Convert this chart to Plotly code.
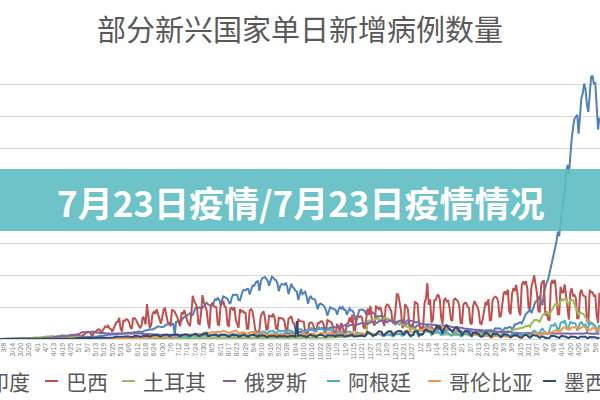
import plotly.graph_objects as go
import pandas as pd

START = "2020-03-02"  # first day of every series (daily values, in thousands)

india = [
    0,0,0,0,0,0,0, 0,0,0,0,0,0,0,
    0,0,0,0,0.1,0.1,0.1, 0.1,0.1,0.1,0.1,0.1,0.2,0.1,
    0.2,0.2,0.4,0.5,0.5,0.6,0.7, 0.6,0.5,0.6,0.8,0.9,0.8,0.9,
    0.8,1.2,1.1,0.9,1.0,1.2,1.5, 1.3,1.5,1.3,1.7,1.8,1.6,1.8,
    1.4,1.9,1.7,1.8,1.9,2.6,2.6, 3.9,2.9,2.9,3.6,3.3,3.3,4.2,
    3.6,3.6,3.7,3.9,3.9,4.9,5.0, 4.6,5.6,5.6,6.1,6.7,6.8,7.0,
    6.5,6.4,6.6,7.5,7.5,8.4,8.8, 8.4,8.2,9.6,9.9,9.9,10.4,9.9,
    9.9,9.9,11.1,10.0,11.5,12.0,11.9, 10.7,11.0,13.1,12.9,13.6,14.5,15.4,
    14.8,15.0,16.7,16.9,18.6,19.9,19.5, 18.7,18.5,19.1,20.9,22.8,22.8,24.9,
    22.3,22.8,24.9,6.0,27.1,27.8,28.6, 28.5,29.4,32.7,35.0,34.9,37.4,38.9,
    40.4,37.1,37.7,45.7,49.3,48.9,48.7, 49.9,47.7,48.5,52.1,55.1,57.1,54.7,
    52.9,52.1,52.5,56.3,62.5,61.5,64.4, 62.1,53.6,60.9,67.0,66.0,64.6,63.5,
    57.9,55.1,64.5,69.7,68.9,70.0,69.2, 61.4,60.9,67.2,75.8,77.3,76.5,79.0,
    78.5,69.9,78.4,83.9,83.3,87.1,90.6, 90.8,75.8,89.7,95.7,96.6,97.6,94.4,
    92.1,83.8,90.1,97.9,96.4,93.3,92.6, 87.4,75.1,83.3,86.5,86.1,85.4,88.6,
    82.2,70.6,80.5,86.8,81.5,79.5,75.8, 74.4,61.3,72.0,78.5,70.5,73.3,74.4,
    66.7,55.3,63.5,67.7,63.4,62.2,61.9, 55.7,46.8,54.0,55.8,54.4,53.4,50.1,
    45.1,36.5,43.9,49.9,48.6,48.3,46.9, 45.2,38.3,46.3,50.2,47.6,50.4,45.7,
    45.9,38.1,44.3,47.9,44.9,44.7,41.1, 30.5,29.2,38.6,45.6,45.9,46.2,45.2,
    44.1,37.9,44.4,44.5,43.0,41.3,41.8, 38.8,31.1,36.6,35.6,36.6,36.7,36.0,
    32.9,26.6,32.1,31.5,29.4,30.0,30.3, 27.1,22.1,26.4,24.0,22.9,25.1,26.6,
    24.3,19.6,23.9,24.7,23.1,18.7,22.3, 20.0,16.4,20.5,21.8,20.0,19.1,18.2,
    16.5,18.1,18.1,20.3,18.1,18.2,18.6, 16.3,12.6,15.9,16.9,15.6,15.2,15.1,
    13.8,10.1,13.8,15.2,15.0,14.3,14.8, 13.2,9.1,12.7,11.7,18.9,13.1,13.1,
    11.4,8.6,11.0,12.9,12.4,11.7,12.1, 11.8,9.1,11.1,12.9,9.3,12.1,11.4,
    11.6,9.1,11.6,12.9,13.2,13.9,14.3, 14.2,10.6,13.7,16.7,16.6,16.5,16.8,
    15.5,12.3,14.9,17.4,16.8,18.3,18.7, 18.6,15.4,17.9,22.9,23.3,24.9,25.3,
    26.3,24.5,28.9,35.9,39.7,40.9,43.8, 46.9,40.7,47.3,53.5,59.1,59.1,62.7,
    68.0,56.2,53.5,72.3,81.5,89.1,93.2, 103.6,115.7,126.8,131.9,145.4,152.9,168.9,
    161.7,184.4,200.7,217.4,234.7,261.4,273.8, 259.2,295.0,314.8,332.7,346.8,349.7,352.9,
    323.1,360.9,379.3,386.5,401.9,392.5,368.1, 357.2,382.3,412.3,414.2,401.1,403.7,366.2,
    329.9,348.4,
]

brazil = [
    0,0,0,0,0,0,0, 0,0,0,0,0.1,0.1,0.1,
    0.1,0.1,0.1,0.3,0.4,0.3,0.4, 0.4,0.3,0.2,0.5,0.5,0.5,0.4,
    0.3,1.1,1.2,1.1,1.1,1.2,0.9, 0.9,1.6,2.2,1.9,1.4,1.1,1.2,
    1.3,1.8,3.0,2.0,3.3,2.9,1.9, 2.1,2.3,2.7,3.7,3.5,5.5,3.4,
    4.6,5.4,6.3,7.2,5.0,4.6,4.0, 6.6,6.9,10.5,9.9,11.1,10.6,6.6,
    5.6,11.4,11.3,13.9,15.3,14.9,7.9, 13.1,17.4,19.9,18.5,20.8,16.5,15.8,
    11.7,16.3,20.6,26.4,26.9,33.3,16.4, 11.6,28.9,28.6,30.9,30.8,27.1,18.9,
    15.7,32.1,32.9,30.5,25.9,21.7,17.1, 20.6,34.9,32.2,22.8,54.8,34.7,17.5,
    21.4,39.4,42.7,39.5,46.9,38.7,30.5, 24.1,33.8,46.7,48.1,37.9,26.1,24.8,
    20.2,45.3,45.0,42.6,39.0,33.3,24.8, 20.3,41.9,39.9,45.4,34.2,28.5,23.5,
    20.3,41.0,67.9,59.9,55.9,51.1,24.6, 23.3,40.8,69.1,57.8,52.4,45.4,25.8,
    16.6,51.6,57.2,53.1,50.2,49.9,23.0, 22.0,52.2,55.2,60.1,50.6,49.3,23.1,
    19.4,47.8,49.3,45.3,50.0,30.4,23.4, 17.4,47.1,42.8,44.2,41.4,41.4,16.2,
    16.2,45.2,46.9,43.8,30.2,14.5,10.3, 10.3,14.3,35.8,40.6,43.7,33.5,14.8,
    15.2,36.7,36.3,34.9,39.8,33.0,16.4, 15.5,33.5,32.8,33.3,31.9,28.4,14.3,
    13.2,32.1,33.1,36.2,26.3,24.6,13.8, 8.7,31.5,28.4,27.8,27.4,27.1,10.6,
    8.4,10.2,24.7,26.2,25.3,20.2,13.2, 12.1,24.8,24.8,27.4,28.0,24.5,15.7,
    13.5,29.8,28.6,26.1,26.1,18.9,8.4, 8.5,23.9,18.6,10.5,25.2,18.9,10.9,
    10.6,23.9,25.0,33.9,25.9,38.3,13.4, 13.4,35.3,35.9,34.6,35.8,32.7,18.6,
    16.2,31.1,47.9,37.6,52.2,31.2,24.5, 21.1,50.9,49.8,46.9,50.4,43.2,26.8,
    20.4,51.1,54.4,53.3,48.0,43.9,25.6, 25.0,42.9,70.6,69.8,59.8,45.0,17.4,
    21.0,55.0,50.9,46.7,22.2,15.6,17.3, 25.6,58.7,56.8,55.0,24.6,15.8,17.3,
    20.0,56.6,64.0,87.8,54.0,62.3,25.8, 29.8,61.0,60.9,68.1,69.2,62.0,33.0,
    23.7,61.2,63.6,59.1,60.0,49.2,30.2, 28.3,61.8,63.5,61.0,59.8,52.0,24.6,
    24.6,54.1,56.9,56.8,51.1,48.5,25.0, 23.4,52.1,59.6,54.7,51.1,43.8,24.8,
    23.4,31.7,45.5,58.3,53.5,62.7,29.3, 30.1,60.3,65.2,66.6,65.1,59.0,35.4,
    35.8,59.9,71.7,75.1,69.6,77.7,43.8, 38.9,70.8,79.9,75.4,85.6,69.6,43.8,
    37.0,84.0,90.3,86.9,90.8,79.1,47.8, 49.3,82.5,89.9,100.2,85.0,71.7,44.3,
    42.0,84.5,90.6,91.1,37.2,43.5,31.4, 28.9,86.7,92.6,86.7,93.3,71.8,38.9,
    39.0,82.2,73.2,73.5,85.8,67.6,42.9, 30.6,72.9,79.7,68.0,69.1,64.5,32.6,
    32.6,72.1,77.6,69.4,67.5,66.9,28.9, 24.6,77.4,73.4,73.4,67.8,68.4,37.9,
    25.2,72.7,
]

turkey = [
    0,0,0,0,0,0,0, 0,0,0,0,0,0,0,
    0,0,0,0.1,0.2,0.3,0.3, 0.3,0.3,0.6,0.6,1.2,1.7,1.8,
    1.6,2.7,2.1,2.5,2.8,3.0,3.1, 3.1,3.9,4.1,4.1,4.7,5.1,4.8,
    4.1,4.1,4.3,4.8,4.4,3.8,3.8, 4.7,4.6,3.1,3.1,3.1,2.9,2.4,
    2.1,2.4,2.9,2.1,2.7,1.9,1.7, 1.6,1.8,2.0,2.0,1.8,1.8,1.5,
    1.1,1.7,1.6,1.6,1.4,1.3,1.4, 1.4,1.2,0.9,1.0,1.2,1.2,1.1,
    0.9,1.0,0.9,1.2,1.2,1.1,0.9, 0.8,1.0,0.9,1.0,1.0,1.2,1.4,
    1.5,1.0,1.0,1.2,1.4,1.5,1.6, 1.6,1.4,1.4,1.3,1.2,1.2,1.2,
    1.2,1.5,1.5,1.5,1.5,1.4,1.4, 1.4,1.3,1.2,1.2,1.2,1.2,1.1,
    1.1,1.0,1.0,1.0,1.0,1.0,1.0, 1.0,1.0,1.0,0.9,0.9,0.9,0.9,
    0.9,0.9,0.9,0.9,0.9,0.9,0.9, 0.9,0.9,1.0,1.0,1.0,1.0,1.0,
    1.0,1.0,1.1,1.1,1.2,1.2,1.2, 1.2,1.2,1.2,1.2,1.2,1.2,1.2,
    1.3,1.3,1.3,1.3,1.3,1.4,1.4, 1.5,1.5,1.5,1.5,1.5,1.5,1.5,
    1.6,1.6,1.6,1.6,1.7,1.7,1.7, 1.7,1.7,1.7,1.7,1.7,1.7,1.6,
    1.6,1.6,1.6,1.6,1.6,1.6,1.5, 1.5,1.5,1.5,1.5,1.5,1.5,1.4,
    1.4,1.4,1.4,1.4,1.4,1.4,1.4, 1.4,1.4,1.4,1.4,1.5,1.5,1.5,
    1.5,1.6,1.6,1.6,1.7,1.7,1.7, 1.7,1.8,1.8,1.8,1.9,1.9,2.0,
    2.1,2.2,2.2,2.3,2.3,2.4,2.4, 2.4,2.5,2.6,2.7,2.9,3.0,3.1,
    3.3,3.5,3.8,4.1,4.2,4.2,4.2, 4.2,4.2,4.3,4.6,4.8,5.1,5.1,
    5.5,6.0,28.4,29.1,29.6,29.3,28.8, 31.2,32.1,31.9,32.1,30.4,30.1,29.6,
    33.2,32.7,32.1,31.0,30.4,29.8,29.3, 28.3,27.7,26.7,25.7,24.7,23.6,22.5,
    21.0,20.3,19.5,18.7,17.8,17.2,16.4, 15.8,15.0,14.7,14.2,13.9,13.3,12.9,
    12.6,12.0,11.6,11.7,11.9,11.8,11.4, 10.6,10.0,9.6,9.3,9.2,9.0,8.4,
    7.5,7.3,7.6,7.6,7.0,6.4,6.7, 6.2,6.1,6.0,6.3,6.3,6.7,6.7,
    6.6,7.1,7.5,7.8,7.9,7.9,7.7, 7.1,7.0,7.7,7.8,8.0,7.9,7.5,
    7.4,8.1,8.4,8.7,9.1,9.4,8.7, 8.9,9.4,9.8,10.0,10.6,10.8,11.0,
    9.9,11.8,12.1,11.5,11.6,12.7,12.3, 11.6,14.0,14.5,15.2,15.5,15.7,15.5,
    16.1,17.6,18.0,19.3,20.0,20.9,21.3, 19.3,24.5,26.2,29.8,30.0,30.0,28.6,
    26.8,32.4,37.3,39.3,40.8,41.4,40.9, 38.7,42.3,47.0,49.5,54.7,55.8,52.7,
    55.9,59.2,62.8,61.0,63.1,62.6,55.8, 54.7,61.0,61.4,61.0,54.8,48.6,44.8,
    37.3,42.6,40.4,40.0,37.7,33.3,32.2, 24.7,27.2,25.4,23.7,21.7,18.9,17.2,
    11.5,14.0,
]

russia = [
    0,0,0,0,0,0,0, 0,0,0,0,0,0,0,
    0,0,0,0,0,0.1,0.1, 0.1,0.1,0.2,0.2,0.2,0.2,0.3,
    0.3,0.5,0.4,0.8,0.6,0.6,0.7, 1.2,1.2,1.5,1.5,1.8,1.7,2.2,
    2.6,2.8,3.4,3.4,4.1,4.8,6.1, 4.3,5.6,5.2,4.8,5.8,5.9,5.9,
    6.2,6.4,7.1,7.1,7.9,9.6,10.6, 10.6,10.1,10.6,11.2,10.7,10.8,11.0,
    11.7,10.9,10.0,10.0,10.6,9.2,9.7, 8.9,9.3,8.8,8.8,8.9,9.4,9.0,
    8.9,8.9,8.4,8.4,8.6,9.0,9.3, 9.0,8.9,8.5,8.8,8.7,8.9,8.9,
    9.0,8.6,8.4,8.8,8.8,8.8,8.8, 8.2,8.2,8.0,7.8,7.9,7.9,7.7,
    7.6,7.6,7.2,7.1,7.1,6.9,6.8, 6.7,6.7,6.6,6.8,6.8,6.7,6.7,
    6.7,6.4,6.6,6.5,6.6,6.6,6.6, 6.5,6.4,6.4,6.4,6.2,6.1,6.0,
    5.9,5.8,5.8,5.8,5.9,5.8,5.8, 5.6,5.5,5.5,5.5,5.5,5.5,5.4,
    5.4,5.2,5.2,5.2,5.2,5.2,5.2, 5.1,5.1,5.1,5.1,5.1,5.1,5.0,
    4.9,4.8,4.7,4.7,4.8,4.9,4.9, 4.8,4.7,4.7,4.7,4.8,4.9,4.9,
    4.7,4.7,4.9,5.0,5.1,5.2,5.2, 5.2,5.1,5.1,5.4,5.4,5.5,5.5,
    5.5,5.5,5.6,5.8,5.9,6.1,6.1, 6.1,6.2,6.4,6.6,7.0,7.5,7.9,
    8.1,8.1,8.5,8.9,9.4,9.9,10.5, 10.9,11.1,11.1,11.5,12.1,12.8,13.6,
    13.6,13.9,14.2,14.2,15.2,15.7,15.9, 15.9,16.3,16.1,15.7,17.3,17.3,17.0,
    16.6,16.2,16.6,17.7,18.3,18.1,18.7, 18.3,19.0,19.8,19.4,20.6,20.5,21.8,
    21.8,20.9,19.9,21.6,22.0,22.7,22.6, 22.8,22.4,23.6,24.3,24.8,24.6,24.6,
    25.2,24.3,23.7,25.5,25.5,27.5,26.7, 26.3,26.4,25.3,28.1,28.5,28.8,29.0,
    28.1,27.0,26.1,27.9,28.6,29.0,28.6, 27.3,26.7,26.8,28.2,28.6,28.9,28.5,
    28.0,26.4,28.5,29.9,29.3,29.0,28.4, 27.8,26.5,26.5,27.0,26.5,24.2,23.4,
    24.1,23.4,22.3,23.0,22.9,22.9,23.0, 23.3,22.3,22.1,21.6,21.8,21.1,21.1,
    21.2,20.6,21.1,20.7,20.2,19.3,19.3, 19.0,17.8,17.6,18.0,18.0,17.4,17.6,
    17.8,16.6,16.4,16.0,16.1,15.8,16.2, 16.0,14.9,14.4,14.6,14.5,14.2,14.2,
    14.2,13.2,12.8,13.4,13.1,12.7,12.9, 12.8,11.7,11.7,11.4,11.5,11.5,11.6,
    11.6,10.6,10.6,11.1,10.9,10.6,10.9, 10.9,10.5,9.6,10.2,10.0,9.6,9.8,
    9.8,9.2,9.1,9.3,9.3,9.2,9.6, 9.4,8.8,8.5,8.3,8.6,8.7,8.9,
    8.8,8.7,8.6,8.8,9.0,8.6,8.8, 8.8,8.3,8.2,8.3,8.6,8.7,8.8,
    8.8,8.2,8.3,8.3,9.0,8.7,8.7, 8.7,8.1,8.3,8.5,9.3,9.0,8.8,
    8.7,8.3,8.1,8.4,8.8,9.3,9.3, 9.0,8.3,8.2,8.3,8.7,8.8,8.6,
    8.8,8.4,
]

argentina = [
    0,0,0,0,0,0,0, 0,0,0,0,0,0,0,
    0,0,0,0,0,0,0, 0,0.1,0.1,0.1,0.1,0.1,0.1,
    0.1,0.1,0.1,0.1,0.1,0.1,0.1, 0.1,0.1,0.1,0.1,0.1,0.1,0.1,
    0.1,0.1,0.1,0.2,0.1,0.1,0.1, 0.1,0.1,0.1,0.1,0.2,0.2,0.1,
    0.1,0.1,0.2,0.2,0.2,0.2,0.1, 0.1,0.2,0.2,0.3,0.2,0.2,0.2,
    0.2,0.2,0.3,0.3,0.3,0.4,0.3, 0.3,0.4,0.5,0.5,0.7,0.7,0.6,
    0.6,0.5,0.7,0.7,0.8,0.8,0.8, 0.6,0.9,0.9,0.9,0.9,1.0,0.9,
    0.9,1.2,1.2,1.4,1.4,1.5,1.3, 1.2,1.4,1.4,2.0,1.6,2.1,1.6,
    1.6,2.1,2.6,2.6,2.6,2.9,2.2, 2.3,2.3,2.7,2.7,2.6,2.8,2.4,
    2.6,2.6,3.6,3.4,3.6,3.4,2.7, 2.7,3.1,3.6,4.3,4.6,3.1,2.7,
    3.3,4.8,5.3,5.5,4.9,4.2,3.4, 3.7,5.6,5.3,6.4,5.9,5.0,4.8,
    4.6,6.3,6.4,6.7,7.0,5.7,4.4, 4.5,6.8,7.0,7.7,7.5,6.0,4.8,
    4.6,6.6,6.4,8.0,7.8,7.3,5.7, 6.2,8.6,8.3,8.9,9.1,9.0,7.2,
    7.2,10.1,10.1,10.1,10.9,11.2,8.4, 8.5,10.4,10.4,11.6,11.1,11.3,8.9,
    9.0,12.3,11.7,12.3,13.0,10.3,7.2, 11.2,13.5,11.9,12.6,12.9,12.4,8.8,
    11.2,14.4,12.9,13.0,11.7,10.0,9.3, 10.4,14.7,15.5,15.5,13.6,11.3,9.6,
    13.6,13.4,14.9,17.1,16.6,12.7,12.3, 11.9,16.5,18.3,16.2,16.3,14.8,9.9,
    11.0,15.0,14.3,15.0,13.5,11.1,7.5, 8.2,11.1,11.3,11.9,11.3,9.7,6.8,
    7.0,11.9,11.9,11.1,10.9,10.0,6.4, 6.8,10.3,9.9,8.9,9.3,7.8,5.2,
    6.3,9.3,8.2,9.0,8.6,7.4,4.6, 6.5,7.8,7.8,7.3,7.6,6.5,4.3,
    5.3,6.9,6.7,6.9,7.0,6.0,4.0, 4.6,7.7,7.4,7.6,8.2,6.8,5.1,
    6.2,8.7,9.9,9.3,6.3,3.5,5.5, 8.6,11.6,11.6,7.7,4.1,7.2,7.4,
    8.2,13.8,14.1,12.6,13.0,10.1,6.3, 8.6,11.9,13.1,12.7,11.2,9.8,6.4,
    6.5,11.3,10.3,10.8,9.6,8.3,5.4, 5.5,10.0,9.6,8.9,8.0,6.8,4.5,
    4.5,8.2,8.0,8.1,7.0,6.2,4.6, 4.2,7.0,7.0,7.1,6.6,5.2,3.8,
    3.5,4.6,7.5,7.2,6.6,5.3,3.9, 4.3,8.2,7.7,7.5,7.2,6.0,4.0,
    4.8,7.6,7.3,7.6,7.6,6.1,4.3, 4.6,8.8,7.6,7.9,6.8,6.1,5.1,
    5.2,7.6,8.4,9.1,9.1,7.9,5.0, 5.7,9.5,11.9,12.9,12.0,9.3,7.0,
    8.8,14.8,16.2,13.0,9.4,8.7,8.7, 13.0,20.9,22.0,20.8,24.1,20.4,12.7,
    16.0,25.2,27.0,25.9,29.5,22.4,14.5, 19.6,26.9,25.9,24.5,25.3,22.2,13.3,
    20.5,24.8,26.5,23.0,21.9,23.0,11.6, 19.7,26.6,23.7,24.6,22.0,20.1,11.4,
    13.5,22.3,
]

colombia = [
    0,0,0,0,0,0,0, 0,0,0,0,0,0,0,
    0,0,0,0,0,0.1,0.1, 0.1,0.1,0.1,0.1,0.1,0.1,0.1,
    0.1,0.1,0.1,0.1,0.1,0.1,0.1, 0.1,0.1,0.2,0.1,0.3,0.1,0.1,
    0.2,0.1,0.1,0.2,0.2,0.2,0.2, 0.2,0.2,0.1,0.2,0.3,0.2,0.2,
    0.3,0.3,0.3,0.3,0.4,0.3,0.4, 0.4,0.4,0.5,0.5,0.5,0.6,0.6,
    0.6,0.5,0.6,0.6,0.6,0.6,0.5, 0.6,0.7,0.7,0.7,0.9,0.9,0.7,
    0.8,0.8,0.7,1.0,1.1,1.2,1.0, 1.0,1.1,1.4,1.5,1.5,1.4,1.3,
    1.3,1.4,1.6,1.6,1.8,2.1,1.7, 1.5,2.0,2.0,2.4,2.4,2.3,2.1,
    2.1,2.1,2.9,3.3,3.5,3.1,3.4, 3.3,3.2,3.9,3.8,4.1,4.2,4.0,
    3.7,4.0,4.1,4.5,4.3,5.3,4.8, 4.4,5.0,6.6,6.2,6.5,7.0,7.6,
    6.1,6.3,6.3,7.8,7.8,7.9,8.6, 8.1,8.6,8.0,10.1,10.0,10.1,9.0,
    9.4,10.0,11.2,10.4,10.9,10.9,11.3, 10.4,10.7,12.0,12.8,12.1,11.3,11.0,
    9.5,10.3,11.3,11.7,12.1,13.1,11.7, 8.6,8.3,10.5,10.3,10.6,9.0,8.4,
    8.0,9.9,11.0,10.6,10.1,9.4,8.6, 7.9,6.4,7.7,8.0,8.5,7.9,6.0,
    6.1,5.6,7.9,7.2,8.4,7.8,6.0, 5.7,5.4,7.0,7.1,7.3,6.2,5.6,
    5.1,5.1,6.1,7.7,7.2,6.6,6.2, 4.4,6.4,7.1,7.8,8.1,7.6,6.3,
    6.0,5.6,7.8,8.0,8.5,8.6,7.0, 6.0,6.3,8.6,9.7,9.5,9.3,8.8,
    8.2,7.5,9.8,10.3,9.0,8.5,6.6, 6.6,6.4,9.4,9.0,9.2,8.5,7.4,
    6.4,6.1,7.3,8.3,8.7,8.5,7.6, 7.4,6.3,7.8,8.3,8.7,9.3,8.4,
    7.1,7.4,7.8,8.3,8.4,8.6,7.7, 7.3,7.9,8.6,8.8,9.2,8.9,8.0,
    7.1,8.4,9.1,10.2,10.4,9.6,9.7, 8.4,10.7,11.7,11.4,12.0,12.0,11.1,
    10.2,12.2,13.1,13.0,13.3,11.0,10.5, 11.4,12.0,12.9,13.7,13.0,14.1,13.1,
    14.3,16.6,17.5,17.3,17.0,17.1,14.3, 13.0,15.9,17.1,19.1,19.2,18.2,21.1,
    15.8,14.9,17.1,16.0,17.2,16.0,14.8, 12.5,11.8,13.0,12.7,12.1,11.6,10.1,
    8.7,9.5,9.3,10.3,9.9,8.8,7.4, 6.2,6.4,6.8,6.9,6.9,5.9,5.0,
    4.1,3.7,4.9,5.5,5.0,4.5,3.6, 3.0,3.3,4.2,4.9,4.6,4.2,3.6,
    3.6,3.5,4.5,4.3,4.4,4.3,3.5, 3.0,3.4,4.4,4.5,5.3,5.4,4.1,
    3.0,3.8,4.6,5.5,6.5,6.5,5.4, 4.1,4.9,6.2,8.8,9.4,9.3,7.8,
    7.0,7.8,9.2,9.0,10.6,9.9,8.6, 9.2,10.2,11.6,13.1,13.1,13.6,12.4,
    11.1,13.1,16.4,17.7,18.4,17.0,15.1, 14.6,15.5,18.2,18.8,17.9,19.0,18.0,
    15.3,16.3,18.3,19.7,19.5,17.7,15.9, 13.6,14.4,14.7,18.0,16.6,17.4,15.7,
    12.9,15.8,
]

mexico = [
    0,0,0,0,0,0,0, 0,0,0,0,0,0,0,
    0,0,0,0,0,0,0, 0,0.1,0.1,0.1,0.1,0.1,0.1,
    0.1,0.2,0.1,0.2,0.2,0.1,0.2, 0.3,0.3,0.4,0.4,0.3,0.4,0.3,
    0.4,0.3,0.5,0.6,0.4,0.6,0.8, 0.8,0.7,1.0,0.9,1.0,1.1,0.8,
    0.9,0.9,1.4,1.5,1.4,1.3,1.4, 1.4,1.4,1.6,1.7,2.0,1.7,1.8,
    1.3,1.6,1.9,2.0,2.4,2.1,2.4, 2.3,2.1,2.1,2.2,2.5,3.0,2.8,
    2.8,2.5,3.4,3.5,3.1,3.2,2.9, 2.8,3.9,3.9,4.4,4.3,3.6,3.5,
    3.5,3.1,4.9,4.9,4.8,4.2,3.5, 3.4,4.6,4.6,5.7,5.0,5.0,3.8,
    4.6,6.3,6.3,6.1,6.1,6.1,4.4, 4.1,5.4,6.7,6.7,6.6,6.7,4.7,
    4.9,6.3,6.3,7.3,6.9,7.0,4.9, 4.5,6.0,6.8,7.6,7.3,6.4,5.3,
    4.7,6.8,6.9,7.2,8.4,6.6,5.5, 4.8,6.0,7.2,8.5,7.7,9.6,4.8,
    4.8,6.1,6.6,6.6,7.0,6.9,5.0, 4.4,6.7,6.6,7.4,6.5,5.7,5.2,
    3.6,4.4,6.5,6.2,5.4,6.6,5.9, 3.5,4.5,5.8,5.9,6.6,5.4,4.0,
    3.5,5.4,6.2,5.8,6.8,5.3,3.9, 3.5,5.7,4.8,5.9,5.9,4.8,3.1,
    2.9,4.6,4.8,5.0,4.4,4.7,3.9, 3.3,4.7,4.6,5.4,5.3,5.3,4.5,
    3.4,4.4,4.6,4.8,5.1,4.7,3.7, 28.1,4.8,4.8,5.8,4.6,4.7,4.3,
    3.1,4.3,5.2,6.9,4.8,5.5,4.4, 3.0,5.3,6.1,6.6,6.4,5.6,3.6,
    3.2,5.5,6.0,5.9,5.8,5.5,4.1, 3.9,5.9,5.3,6.2,5.6,6.3,3.9,
    4.0,4.5,5.3,6.4,7.0,6.5,4.1, 4.0,3.6,4.2,5.3,6.1,5.7,4.2,
    4.4,6.9,10.8,10.3,8.5,6.4,4.8, 6.6,6.4,10.2,12.1,12.0,11.3,6.5,
    6.1,8.8,10.4,12.3,12.1,11.9,6.4, 6.5,9.9,12.0,12.7,12.4,12.3,8.1,
    6.8,10.8,12.5,10.8,6.8,5.4,5.7, 6.4,12.1,12.4,12.1,5.6,7.7,6.6,
    8.0,13.4,14.6,13.7,13.1,12.2,10.9, 7.5,13.6,15.9,21.4,17.0,20.1,13.1,
    8.7,16.7,18.7,21.4,17.9,15.3,14.4, 11.4,13.9,17.9,18.5,16.3,11.5,10.9,
    5.4,8.7,12.2,12.2,11.4,10.3,7.4, 4.8,9.6,9.6,9.7,8.3,8.0,4.7,
    3.4,5.0,8.4,10.1,9.9,8.1,5.4, 3.0,6.5,8.9,7.4,8.3,7.3,4.4,
    2.8,4.6,7.5,6.7,7.2,6.5,3.8, 2.6,4.3,5.7,6.4,5.5,6.0,3.0,
    2.8,1.8,5.1,5.7,6.5,5.8,2.8, 2.2,4.4,6.0,5.7,5.0,5.3,3.1,
    1.8,4.1,4.1,3.5,1.4,2.1,0.7, 1.9,4.7,4.1,4.6,4.3,3.6,1.8,
    1.7,3.7,4.9,4.3,3.7,3.7,1.8, 1.5,3.9,4.0,3.9,3.7,3.3,1.5,
    1.4,3.6,3.4,3.2,3.1,3.4,1.6, 1.7,3.1,3.4,3.0,2.9,2.8,1.4,
    1.0,2.8,
]

names = ["印度", "巴西", "土耳其", "俄罗斯", "阿根廷", "哥伦比亚", "墨西哥"]
values = [india, brazil, turkey, russia, argentina, colombia, mexico]
colors = ["#4F81BD", "#C0504D", "#9BBB59", "#8064A2", "#4BACC6", "#F79646", "#2C4D75"]

title_text = "部分新兴国家单日新增病例数量"
banner_text = "7月23日疫情/7月23日疫情情况"

W, H = 600, 400
PLOT_TOP, PLOT_BOTTOM = 53, 339
CJK = "Noto Sans CJK SC"
GREY = "#595959"


def py(p):
    """pixel row -> paper y"""
    return (PLOT_BOTTOM - p) / (PLOT_BOTTOM - PLOT_TOP)


def px(p):
    return p / W


fig = go.Figure()
for name, vals, color in zip(names, values, colors):
    dates = pd.date_range(START, periods=len(vals), freq="D")
    fig.add_trace(go.Scatter(
        x=dates, y=[v * 1000 for v in vals], mode="lines", name=name,
        line=dict(color=color, width=2), showlegend=False,
    ))

fig.update_layout(
    width=W, height=H,
    margin=dict(l=0, r=0, t=PLOT_TOP, b=H - PLOT_BOTTOM, pad=0, autoexpand=False),
    paper_bgcolor="white", plot_bgcolor="white",
    font=dict(family=CJK, color=GREY),
    showlegend=False,
    xaxis=dict(
        type="date",
        range=["2020-03-05 02:53", "2021-05-11 09:36"],
        tickmode="linear", tick0="2020-03-08", dtick=6 * 86400000,
        tickformat="%-m/%-d", tickangle=-90,
        tickfont=dict(size=7, color="#7F7F7F", family="Liberation Sans"),
        showgrid=False, showline=True, linecolor="#D9D9D9", linewidth=1,
        ticks="", zeroline=False,
    ),
    yaxis=dict(
        range=[0, 450000], tick0=0, dtick=50000,
        showticklabels=False, showgrid=True, gridcolor="#D9D9D9", gridwidth=1,
        zeroline=False, ticks="",
    ),
)

# title
fig.add_annotation(x=0.5, y=py(28), xref="paper", yref="paper", text=title_text,
                   showarrow=False, xanchor="center", yanchor="middle",
                   font=dict(family=CJK, size=29, color=GREY))

# custom legend (bottom, partly cut by the image edges as in the reference)
legend_text_x = [-14, 64, 141, 242, 346, 447, 562]
LEG_Y = 381
for name, color, tx in zip(names, colors, legend_text_x):
    fig.add_shape(type="line", xref="paper", yref="paper",
                  x0=px(tx - 19), x1=px(tx - 6), y0=py(LEG_Y), y1=py(LEG_Y),
                  line=dict(color=color, width=2))
    fig.add_annotation(x=px(tx), y=py(LEG_Y), xref="paper", yref="paper", text=name,
                       showarrow=False, xanchor="left", yanchor="middle",
                       font=dict(family=CJK, size=21, color=GREY))

# overlay banner
fig.add_shape(type="rect", xref="paper", yref="paper", x0=-0.01, x1=1.01,
              y0=py(231), y1=py(169), fillcolor="rgba(94,189,195,0.9)",
              line=dict(width=0), layer="above")
fig.add_annotation(x=0.5, y=py(201), xref="paper", yref="paper",
                   text="<b>" + banner_text + "</b>", showarrow=False,
                   xanchor="center", yanchor="middle",
                   font=dict(family=CJK, size=35, color="white"))

fig.write_html("out.html")
